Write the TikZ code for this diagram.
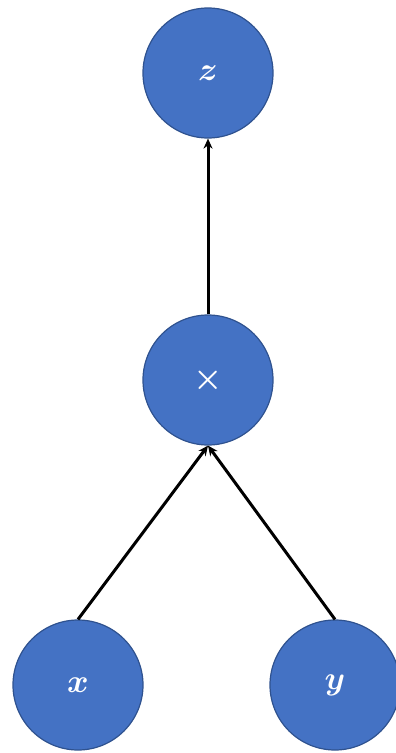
\documentclass[tikz,border=0pt]{standalone}
\usepackage{graphicx}
\usetikzlibrary{arrows.meta}
\definecolor{nodefill}{HTML}{4472C4}
\definecolor{nodeedge}{HTML}{2F528F}
\newcommand{\bigsym}[1]{\scalebox{1.9}{\LARGE\boldmath$#1$}}
\begin{document}
\begin{tikzpicture}[x=1pt,y=-1pt,
  vnode/.style={circle,fill=nodefill,draw=nodeedge,line width=1.2pt,minimum size=130pt,inner sep=0pt,text=white},
  conn/.style={line width=3pt,-{Stealth[length=10pt,width=9pt]}}]
\useasboundingbox (0,0) rectangle (396,753);
\node[vnode] (z) at (208,73) {\bigsym{z}};
\node[vnode] (mul) at (208,380) {\bigsym{\times}};
\node[vnode] (x) at (78,685) {\bigsym{x}};
\node[vnode] (y) at (335,685) {\bigsym{y}};
\draw[conn] (mul) -- (z);
\draw[conn] (x.north) -- (mul.south);
\draw[conn] (y.north) -- (mul.south);
\end{tikzpicture}
\end{document}
